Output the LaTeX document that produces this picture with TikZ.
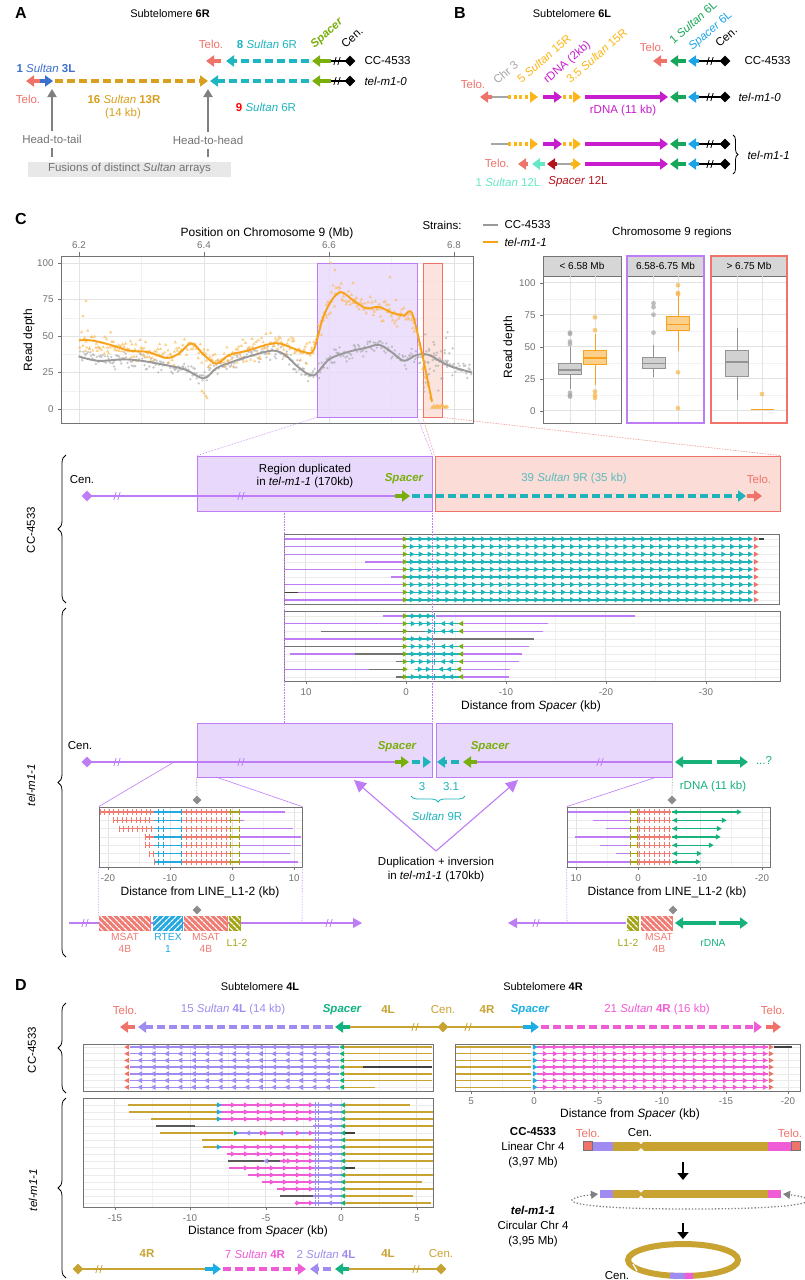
\documentclass[tikz,border=0pt]{standalone}
\usepackage{fontspec}
\setmainfont{Liberation Sans}
\usetikzlibrary{arrows.meta,shapes.geometric,patterns.meta,decorations.pathreplacing,calc}
\definecolor{telo}{HTML}{F0736A}
\definecolor{cyA}{HTML}{1EB6C1}
\definecolor{spg}{HTML}{7AAE0A}
\definecolor{blA}{HTML}{3D6FCF}
\definecolor{gdA}{HTML}{D8A01E}
\definecolor{mag}{HTML}{C71DCF}
\definecolor{yl}{HTML}{FDB616}
\definecolor{grB}{HTML}{18A65A}
\definecolor{blB}{HTML}{1DA4E6}
\definecolor{aq}{HTML}{66E8C6}
\definecolor{drd}{HTML}{B5121B}
\definecolor{pu}{HTML}{BE7DF4}
\definecolor{pufill}{HTML}{E8D9FC}
\definecolor{rdfill}{HTML}{FBDCD6}
\definecolor{org}{HTML}{F8A21C}
\definecolor{gy}{HTML}{A6A6A6}
\definecolor{tl}{HTML}{1FB4B9}
\definecolor{tlnine}{HTML}{5DBBBE}
\definecolor{rg}{HTML}{16B279}
\definecolor{lav}{HTML}{A08CF0}
\definecolor{pk}{HTML}{F05CD6}
\definecolor{cyD}{HTML}{1BAFE5}
\definecolor{gnD}{HTML}{12B283}
\definecolor{gD}{HTML}{C8A332}
\definecolor{ms}{HTML}{F07B73}
\definecolor{rt}{HTML}{24A8DF}
\definecolor{lo}{HTML}{A4A516}
\newcommand\Rtri[3]{\fill[#1] ({#2-2.2},{#3-2.7}) -- ({#2+2.7},{#3}) -- ({#2-2.2},{#3+2.7}) -- cycle;}
\newcommand\Ltri[3]{\fill[#1] ({#2+2.2},{#3-2.7}) -- ({#2-2.7},{#3}) -- ({#2+2.2},{#3+2.7}) -- cycle;}
\newcommand\Hseg[4]{\draw[#1,line width=1.4pt] ({#2},{#4}) -- ({#3},{#4});}
\newcommand\Vbar[3]{\draw[#1,line width=0.9pt] ({#2},{#3-3}) -- ({#2},{#3+3});}
\newcommand\Brk[3]{\draw[#3,line width=0.8pt] ({#1-3.2},{#2+4}) -- ({#1-0.8},{#2-4}) ({#1+0.8},{#2+4}) -- ({#1+3.2},{#2-4});}
\newcommand\Bxp[8]{%
 \draw[#7,line width=0.8pt] (#1,{410.7-1.28*#2}) -- (#1,{410.7-1.28*#3}) (#1,{410.7-1.28*#5}) -- (#1,{410.7-1.28*#6});
 \draw[#7,fill=#8,line width=0.8pt] ({#1-11.5},{410.7-1.28*#3}) rectangle ({#1+11.5},{410.7-1.28*#5});
 \draw[#7,line width=1.6pt] ({#1-11.5},{410.7-1.28*#4}) -- ({#1+11.5},{410.7-1.28*#4});}
\newcommand\Outl[3]{\foreach \v in {#3}{\fill[#2,opacity=.7] (#1,{410.7-1.28*\v}) circle[radius=2.4pt];}}
\newcommand\LiRow[3]{%
 \Hseg{ms}{#2}{154}{#1}\Hseg{rt}{154}{182}{#1}\Hseg{ms}{182}{229}{#1}\Hseg{lo}{229}{240}{#1}\Hseg{pu}{240}{#3}{#1}
 \pgfmathtruncatemacro\nt{(154-#2)/4.6}
 \foreach \i in {0,...,\nt}{\Vbar{ms}{#2+\i*4.6}{#1}}
 \foreach \xq in {158,163,181}{\Vbar{rt}{\xq}{#1}}
 \foreach \i in {0,...,8}{\Vbar{ms}{186+\i*5}{#1}}
 \Vbar{lo}{230}{#1}\Vbar{lo}{239}{#1}}
\newcommand\RiRow[3]{%
 \Hseg{pu}{#2}{630}{#1}\Hseg{lo}{630}{637}{#1}\Vbar{lo}{630}{#1}\Vbar{lo}{637}{#1}
 \Hseg{ms}{638}{671}{#1}\foreach \i in {0,...,6}{\Vbar{ms}{639+\i*5}{#1}}
 \Hseg{rg}{672}{#3}{#1}\Ltri{rg}{675}{#1}\Rtri{rg}{#3}{#1}}
\newcommand\InvC[1]{%
 \Hseg{tl}{405}{461}{#1}\Rtri{spg}{405}{#1}\Rtri{tl}{413}{#1}\Rtri{tl}{421}{#1}\Rtri{tl}{429}{#1}
 \Vbar{tl}{434}{#1}\Ltri{tl}{443}{#1}\Ltri{tl}{451}{#1}\Ltri{spg}{461}{#1}}
\newcommand\DTail[3]{%
 \Hseg{lav}{313}{341}{#1}
 \draw[lav,line width=0.9pt] (315.5,{#1-3}) -- (315.5,{#1+3}) (318.5,{#1-3}) -- (318.5,{#1+3});
 \Ltri{lav}{330}{#1}\Ltri{gnD}{343}{#1}\Hseg{#3}{345}{#2}{#1}}
\newcommand\DPk[3]{\Hseg{pk}{#2}{313}{#1}\foreach \pp in {#3}{\Rtri{pk}{\pp}{#1}}}
\begin{document}
\begin{tikzpicture}[x=1pt,y=-1pt,font=\fontsize{11.5}{13.5}\selectfont,
  ar/.style={line width=3.2pt,-{Triangle[length=8pt,width=11pt]}},
  ard/.style={ar,dash pattern=on 8pt off 4pt},
  ardt/.style={ar,dash pattern=on 3pt off 2.6pt},
  tk/.style={font=\fontsize{9.8}{10}\selectfont,text=black!55},
  titl/.style={font=\fontsize{11}{12}\selectfont},
  axt/.style={font=\fontsize{12}{13}\selectfont},
  it/.style={font=\fontsize{11.5}{13.5}\selectfont\itshape},
  bi/.style={font=\fontsize{11.5}{13.5}\selectfont\bfseries\itshape},
  bo/.style={font=\fontsize{11.5}{13.5}\selectfont\bfseries},
  dia/.style={diamond,inner sep=0,minimum size=11pt},
  gmaj/.style={black!11,line width=0.6pt},
  gmin/.style={black!5,line width=0.4pt},
  frm/.style={draw=black!55,line width=0.7pt,inner sep=0},
  rowl/.style={black!8,line width=0.5pt},
  chr/.style={line width=1.2pt},
  lnk/.style={line width=0.6pt,densely dotted},
  sml/.style={font=\fontsize{10.3}{12}\selectfont,align=center},
  brc/.style={decorate,decoration={brace,amplitude=8pt},line width=0.8pt},
  hatch/.style={draw=#1,line width=0.8pt,fill=#1,inner sep=0,minimum height=14pt},
  dupa/.style={pu,line width=1.1pt,-{Triangle[length=12pt,width=12pt]}}]
\useasboundingbox (0,0) rectangle (805,1280);
\fill[white] (0,0) rectangle (805,1280);
% ================= PANEL A =================
\node[font=\fontsize{16}{16}\bfseries\selectfont] (lA) at (21,13) {A};
\node[titl] (tA) at (170,14) {Subtelomere \textbf{6R}};
\draw[chr] (330,61) -- (350,61); \Brk{337}{61}{black}
\node[dia,fill=black] (cA1) at (350,61) {};
\draw[ar,spg] (331,61) -- (312,61);
\draw[ard,cyA] (309,61) -- (226,61);
\draw[ar,telo] (221,61) -- (206,61);
\node[anchor=west] (sA1) at (361,61) {CC-4533};
\draw[chr] (330,81) -- (350,81); \Brk{337}{81}{black}
\node[dia,fill=black] (cA2) at (350,81) {};
\draw[ar,spg] (331,81) -- (312,81);
\draw[ard,cyA] (309,81) -- (210,81);
\draw[ard,gdA] (55,81) -- (208,81);
\draw[ar,blA] (39,81) -- (53,81);
\draw[ar,telo] (40,81) -- (26,81);
\node[anchor=west,it] (sA2) at (361,81) {tel-m1-0};
\node[telo] (tA1) at (211,44) {Telo.};
\node[cyA] (tA2) at (267,44) {\textbf{8} \textit{Sultan} 6R};
\node[spg,bi,rotate=42,anchor=base west] (tA3) at (312,51) {Spacer};
\node[rotate=42,anchor=base west] (tA4) at (343,51) {Cen.};
\node[blA] (tA5) at (46,68) {\textbf{1} \textit{Sultan} \textbf{3L}};
\node[telo] (tA6) at (28,99) {Telo.};
\node[gdA] (tA7) at (124,99) {\textbf{16} \textit{Sultan} \textbf{13R}};
\node[gdA] (tA8) at (123,114) {(14 kb)};
\node[cyA] (tA9) at (266,107) {\textcolor{red}{\textbf{9}} \textit{Sultan} 6R};
\node[text=black!55] (hA1) at (52,139) {Head-to-tail};
\node[text=black!55] (hA2) at (208,140) {Head-to-head};
\coordinate (jA1) at (52,89); \coordinate (jA2) at (208,89);
\draw[black!50,line width=2pt,-{Triangle[length=8pt,width=9pt]}] (hA1.north) -- (jA1);
\draw[black!50,line width=2pt,-{Triangle[length=8pt,width=9pt]}] (hA2.north) -- (jA2);
\node[fill=black!9,minimum width=203pt,minimum height=15pt,inner sep=0,text=black!55] (fA) at (129.5,169) {Fusions of distinct \textit{Sultan} arrays};
\draw[black!50,line width=2pt] (52,148) -- (52,157);
\draw[black!50,line width=2pt] (208,149) -- (208,157);
% ================= PANEL B =================
\node[font=\fontsize{16}{16}\bfseries\selectfont] (lB) at (460,13) {B};
\node[titl] (tB) at (572,14) {Subtelomere \textbf{6L}};
\foreach \yy/\nm in {61/b1,97/b2,144/b3,164/b4}{
  \draw[chr] (695,\yy) -- (725,\yy); \Brk{710}{\yy}{black}
  \node[dia,fill=black] (c\nm) at (725,\yy) {};
  \draw[ar,blB] (699,\yy) -- (688,\yy);
  \draw[ar,grB] (686,\yy) -- (670,\yy);}
\draw[ar,telo] (667,61) -- (653,61);
\node[anchor=west] (sB1) at (741,61) {CC-4533};
\node[telo] (tB1) at (652,47) {Telo.};
\node[grB,rotate=41,anchor=base west] (tB2) at (671,47) {1 \textit{Sultan} 6L};
\node[blB,rotate=41,anchor=base west] (tB2b) at (690,53) {\textit{Spacer} 6L};
\node[rotate=41,anchor=base west] (tB2c) at (717,50) {Cen.};
\foreach \yy in {97,144}{
  \draw[ar,mag] (585,\yy) -- (668,\yy);
  \draw[ardt,yl] (563,\yy) -- (581,\yy);
  \draw[ar,mag] (543,\yy) -- (562,\yy);
  \draw[ardt,yl] (508,\yy) -- (538,\yy);
  \draw[gy,chr] (491,\yy) -- (508,\yy);}
\draw[ar,telo] (492,97) -- (480,97);
\node[anchor=west,it] (sB2) at (735,97) {tel-m1-0};
\node[telo] (tB3) at (473,84) {Telo.};
\node[gy,rotate=41,anchor=base west] (tB4) at (495,87) {Chr 3};
\node[yl,rotate=41,anchor=base west] (tB5) at (519,86) {5 \textit{Sultan} 15R};
\node[mag,rotate=41,anchor=base west] (tB6) at (545,86) {rDNA (2kb)};
\node[yl,rotate=41,anchor=base west] (tB7) at (568,86) {3.5 \textit{Sultan} 15R};
\node[mag] (tB8) at (623,111) {rDNA (11 kb)};
\draw[ar,mag] (585,164) -- (668,164);
\draw[gy,chr] (557,164) -- (571,164);
\draw[ardt,yl] (571,164) -- (581,164);
\draw[ar,drd] (557,164) -- (547,164);
\draw[ar,aq] (545,164) -- (532,164);
\draw[ar,telo] (528,164) -- (518,164);
\node[telo] (tB9) at (497,163) {Telo.};
\node[aq] (tB10) at (508,182) {1 \textit{Sultan} 12L};
\node[drd] (tB11) at (578,182) {\textit{Spacer} 12L};
\draw[decorate,decoration={brace,amplitude=5pt},line width=0.8pt] (733,135) -- (733,174);
\node[anchor=west,it] (sB3) at (744,155) {tel-m1-1};
% ================= PANEL C: depth plot =================
\node[font=\fontsize{16}{16}\bfseries\selectfont] (lC) at (21,219) {C};
\node[axt] (axT) at (267,233) {Position on Chromosome 9 (Mb)};
\node[axt,rotate=90] (axY) at (29,340) {Read depth};
\foreach \X in {141.5,266.5,391.5}{\draw[gmin] (\X,256) -- (\X,423);}
\foreach \Y in {390.75,354.25,317.75,281.25}{\draw[gmin] (61,\Y) -- (473,\Y);}
\foreach \X/\L [count=\c] in {79/6.2,204/6.4,329/6.6,454/6.8}{\draw[gmaj] (\X,256) -- (\X,423); \draw[black!55] (\X,256) -- (\X,252); \node[tk] (xt\c) at (\X,245) {\L};}
\foreach \Y/\L [count=\c] in {409/0,372.5/25,336/50,299.5/75,263/100}{\draw[gmaj] (61,\Y) -- (473,\Y); \draw[black!55] (61,\Y) -- (58,\Y); \node[tk,anchor=east] (yt\c) at (57,\Y) {\L};}
\node[draw=pu,fill=pufill,fill opacity=.8,line width=0.8pt,minimum width=100pt,minimum height=154pt,inner sep=0] (pbox) at (367,340) {};
\node[draw=telo,fill=rdfill,fill opacity=.8,line width=0.8pt,minimum width=19pt,minimum height=154pt,inner sep=0] (rbox) at (432.5,340) {};
\pgfmathsetseed{4}
\foreach \xa/\ya/\xb/\yb in {79/356.4/97.8/360.8,97.8/360.8/122.8/359.4,122.8/359.4/141.5/360.8,141.5/360.8/166.5/365.2,166.5/365.2/185.3/369.6,185.3/369.6/204/378.3,204/378.3/216.5/368.1,216.5/368.1/235.3/360.8,235.3/360.8/254/355,254/355/272.8/350.6,272.8/350.6/285.3/355,285.3/355/297.8/366.7,297.8/366.7/313.4/375.4,313.4/375.4/329/359.4,329/359.4/347.8/352,347.8/352/366.5/347.7,366.5/347.7/379/344.8,379/344.8/391.5/352,391.5/352/404/360.8,404/360.8/416.5/355,416.5/355/429/355,429/355/447.8/365.2,447.8/365.2/472/372.5}{
 \pgfmathtruncatemacro\nn{max(2,(\xb-\xa)/1.0)}
 \foreach \k in {1,...,\nn}{
  \pgfmathsetmacro\px{\xa+(\k-rnd)*(\xb-\xa)/\nn}
  \pgfmathsetmacro\py{\ya+(\yb-\ya)*(\px-\xa)/(\xb-\xa)+5*(rand+rand)}
  \fill[black!35,opacity=.6] (\px,\py) circle[radius=1.3pt];}}
\foreach \k in {1,...,30}{\pgfmathsetmacro\px{423+rnd*30}\pgfmathsetmacro\py{362+30*rand}\fill[black!35,opacity=.6] (\px,\py) circle[radius=1.3pt];}
\foreach \xa/\ya/\xb/\yb in {79/340.4/91.5/340.4,91.5/340.4/110.3/344.8,110.3/344.8/129/350.6,129/350.6/147.8/352,147.8/352/166.5/357.9,166.5/357.9/179/353.5,179/353.5/191.5/343.3,191.5/343.3/204/355,204/355/216.5/363.7,216.5/363.7/229/355,229/355/247.8/350.6,247.8/350.6/266.5/344.8,266.5/344.8/279/343.3,279/343.3/291.5/347.7,291.5/347.7/304/352,304/352/313.4/350.6,313.4/350.6/322.8/318.5,322.8/318.5/332.1/299.5,332.1/299.5/341.5/292.2,341.5/292.2/354/301,354/301/366.5/308.3,366.5/308.3/379/306.8,379/306.8/391.5/312.6,391.5/312.6/404/315.6,404/315.6/413.4/317,413.4/317/432/401.7}{
 \pgfmathtruncatemacro\nn{max(2,(\xb-\xa)/0.9)}
 \foreach \k in {1,...,\nn}{
  \pgfmathsetmacro\px{\xa+(\k-rnd)*(\xb-\xa)/\nn}
  \pgfmathsetmacro\py{\ya+(\yb-\ya)*(\px-\xa)/(\xb-\xa)+7*(rand+rand)}
  \fill[org!75,opacity=.65] (\px,{\py-1.8}) -- ++(1.7,2.9) -- ++(-3.4,0) -- cycle;}}
\foreach \px/\py in {86/301,83/316,204/393,206/396,202/391,207/398,331/263,335/270,353/283,396/300,390/277}{\fill[org!75,opacity=.65] (\px,{\py-1.8}) -- ++(1.7,2.9) -- ++(-3.4,0) -- cycle;}
\foreach \k in {1,...,22}{\pgfmathsetmacro\px{431+\k*0.75}\pgfmathsetmacro\py{406.5+1.5*rand}\fill[org!75,opacity=.7] (\px,{\py-1.8}) -- ++(1.7,2.9) -- ++(-3.4,0) -- cycle;}
\draw[black!40,line width=1.9pt] plot[smooth,tension=0.55] coordinates {(79,356.4) (97.8,360.8) (122.8,359.4) (141.5,360.8) (166.5,365.2) (185.3,369.6) (204,378.3) (216.5,368.1) (235.3,360.8) (254,355) (272.8,350.6) (285.3,355) (297.8,366.7) (313.4,375.4) (329,359.4) (347.8,352) (366.5,347.7) (379,344.8) (391.5,352) (404,360.8) (416.5,355) (429,355) (447.8,365.2) (472,372.5)};
\draw[org,line width=1.9pt] plot[smooth,tension=0.55] coordinates {(79,340.4) (91.5,340.4) (110.3,344.8) (129,350.6) (147.8,352) (166.5,357.9) (179,353.5) (191.5,343.3) (204,355) (216.5,363.7) (229,355) (247.8,350.6) (266.5,344.8) (279,343.3) (291.5,347.7) (304,352) (313.4,350.6) (322.8,318.5) (332.1,299.5) (341.5,292.2) (354,301) (366.5,308.3) (379,306.8) (391.5,312.6) (404,315.6) (413.4,317) (432,401.7)};
\node[frm,minimum width=412pt,minimum height=167pt] (fC) at (267,339.5) {};
% legend
\node (lgS) at (442,225) {Strains:};
\draw[black!40,line width=2.2pt] (483,225) -- (498,225);
\node[anchor=west] (lg1) at (501,225) {CC-4533};
\draw[org,line width=2.2pt] (483,242) -- (498,242);
\node[anchor=west,it] (lg2) at (501,242) {tel-m1-1};
% boxplots
\node (bpT) at (672,233) {Chromosome 9 regions};
\node[axt,rotate=90] (bpY) at (509,347) {Read depth};
\foreach \a/\b in {543/621,627/704,711/787}{
  \foreach \Y in {394.7,362.7,330.7,298.7}{\draw[gmin] (\a,\Y) -- (\b,\Y);}
  \foreach \Y in {410.7,378.7,346.7,314.7,282.7}{\draw[gmaj] (\a,\Y) -- (\b,\Y);}
  \draw[black!55,fill=black!16,line width=0.7pt] (\a,256) rectangle (\b,276);
  \draw[black!55,line width=0.7pt] (\a,276) rectangle (\b,423);}
\foreach \X in {570,595,653.5,678,737,762}{\draw[gmaj] (\X,276) -- (\X,423);}
\foreach \Y/\L [count=\c] in {410.7/0,378.7/25,346.7/50,314.7/75,282.7/100}{\draw[black!55] (540,\Y) -- (543,\Y); \node[tk,anchor=east] (by\c) at (539,\Y) {\L};}
\node[font=\fontsize{10}{10}\selectfont] (fh1) at (582,266) {< 6.58 Mb};
\node[font=\fontsize{10}{10}\selectfont] (fh2) at (665.5,266) {6.58-6.75 Mb};
\node[font=\fontsize{10}{10}\selectfont] (fh3) at (749,266) {> 6.75 Mb};
\Bxp{570}{17}{28}{32}{37}{50}{black!42}{black!18}
\Outl{570}{black!35}{60,61,54,52,14,12,11}
\Bxp{595}{20}{36}{41}{47}{60}{org}{org!50}
\Outl{595}{org!80}{73,63,15,12,10}
\Bxp{653.5}{26}{33}{37}{42}{51}{black!42}{black!18}
\Outl{653.5}{black!35}{61,75,81,84}
\Bxp{678}{47}{63}{67.5}{74}{90}{org}{org!50}
\Outl{678}{org!80}{92,91,98,30,2}
\Bxp{737}{8}{27}{38}{47}{65}{black!42}{black!18}
\draw[org,line width=1.8pt] (751,409.4) -- (774,409.4);
\Outl{762}{org!80}{13}
\draw[pu,line width=1.6pt] (627,256) rectangle (704,423);
\draw[telo,line width=1.6pt] (711,256) rectangle (787,423);
% ================= PANEL C: CC-4533 structure =================
\node[draw=pu,fill=pufill,line width=0.8pt,minimum width=235pt,minimum height=55pt,inner sep=0] (cbp) at (314.5,483.5) {};
\node[draw=telo,fill=rdfill,line width=0.8pt,minimum width=345pt,minimum height=55pt,inner sep=0] (cbr) at (607.5,483.5) {};
\draw[pu,lnk] (pbox.south west) -- (cbp.north west);
\draw[pu,lnk] (pbox.south east) -- (cbp.north east);
\draw[telo,lnk] (rbox.south west) -- (cbr.north west);
\draw[telo,lnk] (rbox.south east) -- (cbr.north east);
\draw[pu,chr] (87,496) -- (395,496); \Brk{117}{496}{pu} \Brk{241}{496}{pu}
\node[dia,fill=pu] (cenC1) at (87,496) {};
\draw[ar,spg] (395,496) -- (410,496);
\draw[ard,tl] (412,496) -- (746,496);
\draw[ar,telo] (747,496) -- (762,496);
\node (tC1) at (82,480) {Cen.};
\node[align=center,font=\fontsize{11.5}{13.5}\selectfont] (tC2) at (305,476) {Region duplicated\\in \textit{tel-m1-1} (170kb)};
\node[spg,bi] (tC3) at (404,479) {Spacer};
\node[tlnine] (tC4) at (574,479) {39 \textit{Sultan} 9R (35 kb)};
\node[telo] (tC5) at (759,479) {Telo.};
\draw[brc] (66,603) -- (66,455);
\node[rotate=90] (bC1) at (31,530) {CC-4533};
% read plots C
\foreach \X in {355,455,555,655,755}{\draw[gmin] (\X,534) -- (\X,604); \draw[gmin] (\X,611) -- (\X,681);}
\foreach \X in {305,405,505,605,705}{\draw[gmaj] (\X,534) -- (\X,604); \draw[gmaj] (\X,611) -- (\X,681);}
\foreach \k in {0,...,8}{\draw[rowl] (284,{539+7.6*\k}) -- (779,{539+7.6*\k}); \draw[rowl] (284,{616+7.6*\k}) -- (780,{616+7.6*\k});}
\foreach \k/\s in {0/284,1/284,2/284,3/365,4/284,5/391,6/284,7/298,8/284}{
  \pgfmathsetmacro\yy{539+7.6*\k}
  \Hseg{pu}{\s}{403}{\yy}
  \Hseg{tl}{405}{752}{\yy}
  \Rtri{spg}{405}{\yy}
  \foreach \i in {0,...,38}{\Rtri{tl}{412+\i*8.9}{\yy}}
  \Rtri{telo}{756}{\yy}}
\Hseg{black!75}{284}{298}{592.2}
\Hseg{black!75}{759}{764}{539}
% tel-m1-1 reads
\Hseg{pu}{383}{403}{616}\Hseg{tl}{405}{435}{616}\Rtri{spg}{405}{616}\Rtri{tl}{413}{616}\Rtri{tl}{421}{616}\Rtri{tl}{429}{616}\Vbar{tl}{434}{616}\Hseg{pu}{436}{635}{616}
\Hseg{pu}{284}{403}{623.6}\InvC{623.6}\Hseg{pu}{463}{548}{623.6}
\Hseg{black!55}{321}{425}{631.2}\Rtri{spg}{405}{631.2}\Hseg{tl}{425}{461}{631.2}\Rtri{tl}{430}{631.2}\Vbar{tl}{434}{631.2}\Ltri{tl}{443}{631.2}\Ltri{tl}{451}{631.2}\Ltri{spg}{461}{631.2}\Hseg{pu}{463}{543}{631.2}
\Hseg{pu}{284}{403}{638.8}\Hseg{tl}{405}{432}{638.8}\Rtri{spg}{405}{638.8}\Rtri{tl}{413}{638.8}\Rtri{tl}{421}{638.8}\Rtri{tl}{429}{638.8}\Vbar{tl}{432}{638.8}\Hseg{black!55}{433}{534}{638.8}
\Hseg{black!55}{284}{403}{646.4}\InvC{646.4}\Hseg{pu}{463}{529}{646.4}
\Hseg{pu}{290}{355}{654}\Hseg{black!55}{355}{403}{654}\InvC{654}\Hseg{pu}{463}{522}{654}
\Hseg{black!55}{396}{403}{661.6}\InvC{661.6}\Hseg{pu}{463}{519}{661.6}
\Hseg{pu}{284}{369}{669.2}\Hseg{black!55}{369}{403}{669.2}\Rtri{spg}{405}{669.2}\Hseg{tl}{415}{459}{669.2}\Rtri{tl}{420}{669.2}\Rtri{tl}{428}{669.2}\Vbar{tl}{432}{669.2}\Ltri{tl}{441}{669.2}\Ltri{tl}{449}{669.2}\Ltri{spg}{459}{669.2}\Hseg{pu}{461}{510}{669.2}
\Hseg{black!55}{396}{403}{676.8}\InvC{676.8}\Hseg{pu}{463}{509}{676.8}
\node[frm,minimum width=495pt,minimum height=70pt] (fcc) at (531.5,569) {};
\node[frm,minimum width=496pt,minimum height=70pt] (ftm) at (532,646) {};
\foreach \X/\L [count=\c] in {306/10,406/0,506/-10,606/-20,706/-30}{\draw[black!55] (\X,681) -- (\X,684); \node[tk] (tm\c) at (\X,692) {\L};}
\node[axt] (tmT) at (531,706) {Distance from \textit{Spacer} (kb)};
% ================= PANEL C: tel-m1-1 structure =================
\node[draw=pu,fill=pufill,line width=0.8pt,minimum width=235pt,minimum height=54pt,inner sep=0] (tbp1) at (314.5,750) {};
\node[draw=pu,fill=pufill,line width=0.8pt,minimum width=236pt,minimum height=54pt,inner sep=0] (tbp2) at (554,750) {};
\coordinate (d1) at (284,511);
\draw[pu,lnk] (d1) -- (d1 |- tbp1.north);
\draw[pu,lnk] (cbp.south east) -- (tbp1.north east);
\draw[pu,chr] (87,762) -- (395,762); \Brk{117}{762}{pu} \Brk{241}{762}{pu}
\node[dia,fill=pu] (cenC2) at (87,762) {};
\draw[ar,spg] (395,762) -- (409,762);
\draw[ard,tl] (412,762) -- (431,762);
\draw[ard,tl] (459,762) -- (437,762);
\draw[ar,spg] (477,762) -- (463,762);
\draw[pu,chr] (477,762) -- (672,762); \Brk{600}{762}{pu}
\draw[ar,rg] (712,762) -- (675,762);
\draw[ar,rg] (717,762) -- (748,762);
\node[rg] (tD0) at (764,760) {...?};
\node (tD1) at (80,746) {Cen.};
\node[spg,bi] (tD2) at (397,747) {Spacer};
\node[spg,bi] (tD3) at (490,747) {Spacer};
\node[rg] (tD4) at (713,787) {rDNA (11 kb)};
\node[tl] (tD5) at (422,787) {3};
\node[tl] (tD6) at (451,787) {3.1};
\draw[tl,decorate,decoration={brace,amplitude=6pt},line width=0.8pt] (465,796) -- (411,796);
\node[tl] (tD7) at (437,816) {\textit{Sultan} 9R};
\node[align=center,font=\fontsize{11.5}{14}\selectfont] (dup) at (436,870) {Duplication + inversion\\in \textit{tel-m1-1} (170kb)};
\coordinate (vx) at (436,851); \coordinate (ta1) at (354,780); \coordinate (ta2) at (518,780);
\draw[dupa] (vx) -- (ta1);
\draw[dupa] (vx) -- (ta2);
\node[dia,fill=black!45,minimum size=9pt] (dmL) at (197,800) {};
\node[dia,fill=black!45,minimum size=9pt] (dmR) at (672,800) {};
\draw[black!45,lnk] (tbp1.south west) -- (dmL.north);
\draw[black!45,lnk] (tbp2.south east) -- (dmR.north);
\draw[brc] (66,957) -- (66,608);
\node[rotate=90,it] (bC2) at (31,785) {tel-m1-1};
% insets
\foreach \X in {139,201,263}{\draw[gmin] (\X,807) -- (\X,867);}
\foreach \X in {108,170,232,294}{\draw[gmaj] (\X,807) -- (\X,867);}
\foreach \X in {607,669,731}{\draw[gmin] (\X,807) -- (\X,867);}
\foreach \X in {576,638,700,762}{\draw[gmaj] (\X,807) -- (\X,867);}
\foreach \k in {0,...,6}{\draw[rowl] (99,{812+8.3*\k}) -- (302,{812+8.3*\k}); \draw[rowl] (567,{812+8.3*\k}) -- (770,{812+8.3*\k});}
\foreach \k/\s/\e in {0/100/285,1/113/244,2/119/293,3/145/301,4/145/301,5/149/290,6/154/298}{\pgfmathsetmacro\yy{812+8.3*\k}\LiRow{\yy}{\s}{\e}}
\foreach \k/\s/\e in {0/567/739,1/593/724,2/606/719,3/575/718,4/600/711,5/616/699,6/568/698}{\pgfmathsetmacro\yy{812+8.3*\k}\RiRow{\yy}{\s}{\e}}
\node[frm,minimum width=203pt,minimum height=60pt] (fL) at (200.5,837) {};
\node[frm,minimum width=203pt,minimum height=60pt] (fR) at (668.5,837) {};
\foreach \X/\L [count=\c] in {108/-20,170/-10,232/0,294/10}{\draw[black!55] (\X,867) -- (\X,870); \node[tk] (il\c) at (\X,878) {\L};}
\foreach \X/\L [count=\c] in {576/10,638/0,700/-10,762/-20}{\draw[black!55] (\X,867) -- (\X,870); \node[tk] (ir\c) at (\X,878) {\L};}
\node[axt] (ilT) at (200,892) {Distance from LINE\_L1-2 (kb)};
\node[axt] (irT) at (667,892) {Distance from LINE\_L1-2 (kb)};
\coordinate (cL1) at (174,762); \coordinate (cL2) at (216,777); \coordinate (cR1) at (657,777);
\draw[pu,line width=0.6pt] (cL1) -- (fL.north west);
\draw[pu,line width=0.6pt] (cL2) -- (fL.north east);
\draw[pu,line width=0.6pt] (cR1) -- (fR.north west);
% bottom constructs C
\draw[pu,chr,-{Triangle[length=9pt,width=10pt]}] (69,923) -- (362,923); \Brk{85}{923}{pu} \Brk{329}{923}{pu}
\node[hatch=ms,minimum width=51pt,postaction={pattern={Lines[angle=-45,distance=4pt,line width=1.3pt]},pattern color=white}] (ms1) at (124.5,923) {};
\node[hatch=rt,minimum width=29pt,postaction={pattern={Lines[angle=45,distance=4pt,line width=1.3pt]},pattern color=white}] (rt1) at (167.5,923) {};
\node[hatch=ms,minimum width=43pt,postaction={pattern={Lines[angle=-45,distance=4pt,line width=1.3pt]},pattern color=white}] (ms2) at (205.5,923) {};
\node[hatch=lo,minimum width=11pt,postaction={pattern={Lines[angle=-45,distance=4pt,line width=1.3pt]},pattern color=white}] (l1) at (234.5,923) {};
\node[dia,fill=black!45,minimum size=9pt] (dmL2) at (197,910) {};
\node[ms,sml] (bl1) at (125,943) {MSAT\\4B};
\node[rt,sml] (bl2) at (168,943) {RTEX\\1};
\node[ms,sml] (bl3) at (206,943) {MSAT\\4B};
\node[lo,sml] (bl4) at (237,943) {L1-2};
\draw[pu,lnk] (fL.south west) -- (ms1.north west);
\draw[pu,lnk] (fL.south east) -- (302,923);
\draw[pu,chr,-{Triangle[length=9pt,width=10pt]}] (626,923) -- (508,923); \Brk{536}{923}{pu}
\node[hatch=lo,minimum width=11pt,postaction={pattern={Lines[angle=-45,distance=4pt,line width=1.3pt]},pattern color=white}] (l2) at (632.5,923) {};
\node[hatch=ms,minimum width=31pt,postaction={pattern={Lines[angle=-45,distance=4pt,line width=1.3pt]},pattern color=white}] (ms3) at (656.5,923) {};
\draw[ar,rg] (716,923) -- (675,923);
\draw[ar,rg] (719,923) -- (748,923);
\node[dia,fill=black!45,minimum size=9pt] (dmR2) at (673,910) {};
\node[lo,sml] (br1) at (628,943) {L1-2};
\node[ms,sml] (br2) at (659,943) {MSAT\\4B};
\node[rg,sml] (br3) at (713,943) {rDNA};
\draw[pu,lnk] (fR.south west) -- (567,923);
% ================= PANEL D =================
\node[font=\fontsize{16}{16}\bfseries\selectfont] (lD) at (21,985) {D};
\node[titl] (tDa) at (260,987) {Subtelomere \textbf{4L}};
\node[titl] (tDb) at (543,987) {Subtelomere \textbf{4R}};
\draw[ar,telo] (135,1027) -- (120,1027);
\draw[ard,lav] (333,1027) -- (138,1027);
\draw[ar,gnD] (350,1027) -- (335,1027);
\draw[gD,chr] (350,1027) -- (523,1027); \Brk{415}{1027}{gD} \Brk{468}{1027}{gD}
\node[dia,fill=gD] (cenD1) at (443,1027) {};
\draw[ar,cyD] (523,1027) -- (539,1027);
\draw[ard,pk] (541,1027) -- (762,1027);
\draw[ar,telo] (766,1027) -- (781,1027);
\node[telo] (dl1) at (125,1010) {Telo.};
\node[lav] (dl2) at (233,1010) {15 \textit{Sultan} \textbf{4L} (14 kb)};
\node[gnD,bi] (dl3) at (342,1010) {Spacer};
\node[gD,bo] (dl4) at (388,1010) {4L};
\node[gD] (dl5) at (443,1010) {Cen.};
\node[gD,bo] (dl6) at (487,1010) {4R};
\node[cyD,bi] (dl7) at (530,1010) {Spacer};
\node[pk] (dl8) at (657,1010) {21 \textit{Sultan} \textbf{4R} (16 kb)};
\node[telo] (dl9) at (773,1010) {Telo.};
% grids D
\foreach \X in {152,228,303,379}{\draw[gmin] (\X,1044) -- (\X,1091); \draw[gmin] (\X,1098) -- (\X,1207);}
\foreach \X in {114.5,190,265.5,341,416.5}{\draw[gmaj] (\X,1044) -- (\X,1091); \draw[gmaj] (\X,1098) -- (\X,1207);}
\foreach \X in {502,566,629,693,756}{\draw[gmin] (\X,1044) -- (\X,1091);}
\foreach \X in {470.5,534,597.5,661,724.5,788}{\draw[gmaj] (\X,1044) -- (\X,1091);}
\foreach \k in {0,...,6}{\draw[rowl] (83,{1047+6.7*\k}) -- (433,{1047+6.7*\k}); \draw[rowl] (455,{1047+6.7*\k}) -- (800,{1047+6.7*\k});}
\foreach \k in {0,...,14}{\draw[rowl] (83,{1105+7*\k}) -- (433,{1105+7*\k});}
% CC 4L reads
\foreach \k/\e in {0/432,1/432,2/432,3/363,4/432,5/432,6/375}{\pgfmathsetmacro\yy{1047+6.7*\k}
 \Hseg{lav}{130}{339}{\yy}\Ltri{telo}{127}{\yy}
 \foreach \i in {0,...,14}{\Ltri{lav}{140+\i*13.4}{\yy}}
 \Ltri{gnD}{342}{\yy}\Hseg{gD}{344}{\e}{\yy}}
\Hseg{black!75}{363}{432}{1067.1}
% CC 4R reads
\foreach \k in {0,...,6}{\pgfmathsetmacro\yy{1047+6.7*\k}
 \Hseg{gD}{455}{531}{\yy}\Hseg{pk}{537}{768}{\yy}\Rtri{cyD}{535}{\yy}
 \foreach \i in {0,...,22}{\Rtri{pk}{545+\i*10}{\yy}}\Rtri{telo}{771}{\yy}}
\Hseg{black!75}{774}{792}{1047}
% tel-m1-1 4L reads
\Hseg{gD}{128}{217}{1105}\DPk{1105}{218}{233,246,259,272,285,298,311}\Rtri{cyD}{219}{1105}\DTail{1105}{410}{gD}
\Hseg{gD}{129}{217}{1112}\DPk{1112}{218}{233,246,259,272,285,298,311}\Rtri{cyD}{219}{1112}\DTail{1112}{433}{gD}
\Hseg{gD}{151}{217}{1119}\DPk{1119}{218}{233,246,259,272,285,298,311}\Rtri{cyD}{219}{1119}\DTail{1119}{433}{gD}
\Hseg{black!65}{156}{195}{1126}\draw[black!35,line width=0.8pt] (195,1126) -- (313,1126);\DTail{1126}{433}{gD}
\Hseg{gD}{160}{233}{1133}\Hseg{lav}{238}{313}{1133}\Rtri{gnD}{236}{1133}\Ltri{lav}{248}{1133}\Rtri{pk}{262}{1133}\Rtri{pk}{266}{1133}\Ltri{pk}{281}{1133}\Rtri{pk}{298}{1133}\Rtri{pk}{311}{1133}\DTail{1133}{355}{black!75}
\Hseg{gD}{202}{313}{1140}\DTail{1140}{433}{gD}
\Hseg{gD}{203}{217}{1147}\DPk{1147}{218}{233,246,259,272,285,298,311}\Rtri{cyD}{219}{1147}\DTail{1147}{433}{gD}
\DPk{1154}{227}{233,246,259,272,285,298,311}\DTail{1154}{433}{gD}
\Hseg{black!65}{228}{264}{1161}\Ltri{lav}{266}{1161}\Hseg{black!65}{268}{280}{1161}\DPk{1161}{280}{285,289,298,311}\DTail{1161}{433}{gD}
\DPk{1168}{229}{246,259,272,285,298,311}\DTail{1168}{355}{black!75}
\DPk{1175}{248}{259,272,285,298,311}\DTail{1175}{433}{gD}
\DPk{1182}{262}{272,285,298,311}\DTail{1182}{422}{gD}
\DPk{1189}{277}{285,298,311}\DTail{1189}{433}{gD}
\Hseg{black!65}{280}{313}{1196}\DTail{1196}{413}{gD}
\DPk{1203}{295}{298,311}\DTail{1203}{431}{gD}
\node[frm,minimum width=350pt,minimum height=47pt] (fD1) at (258,1067.5) {};
\node[frm,minimum width=350pt,minimum height=109pt] (fD2) at (258,1152.5) {};
\node[frm,minimum width=345pt,minimum height=47pt] (fD3) at (627.5,1067.5) {};
\foreach \X/\L [count=\c] in {115/-15,190/-10,266/-5,341/0,417/5}{\draw[black!55] (\X,1207) -- (\X,1210); \node[tk] (dx\c) at (\X,1218) {\L};}
\foreach \X/\L [count=\c] in {471/5,534/0,598/-5,662/-10,726/-15,788/-20}{\draw[black!55] (\X,1091) -- (\X,1094); \node[tk] (ex\c) at (\X,1101) {\L};}
\node[axt] (dxT) at (258,1231) {Distance from \textit{Spacer} (kb)};
\node[axt] (exT) at (630,1114) {Distance from \textit{Spacer} (kb)};
\draw[brc] (66,1093) -- (66,1003);
\node[rotate=90] (bD1) at (32,1050) {CC-4533};
\draw[brc] (66,1278) -- (66,1098);
\node[rotate=90,it] (bD2) at (33,1190) {tel-m1-1};
% bottom construct D
\draw[gD,chr] (78,1269) -- (205,1269); \Brk{99}{1269}{gD}
\node[dia,fill=gD] (cenD2) at (78,1269) {};
\draw[ar,cyD] (205,1269) -- (221,1269);
\draw[ard,pk] (223,1269) -- (306,1269);
\draw[ard,lav] (331,1269) -- (310,1269);
\draw[ar,gnD] (349,1269) -- (335,1269);
\draw[gD,chr] (349,1269) -- (441,1269); \Brk{416}{1269}{gD}
\node[dia,fill=gD] (cenD3) at (441,1269) {};
\node[gD,bo] (dm1) at (147,1254) {4R};
\node[pk] (dm2) at (255,1254) {7 \textit{Sultan} \textbf{4R}};
\node[lav] (dm3) at (326,1254) {2 \textit{Sultan} \textbf{4L}};
\node[gD,bo] (dm4) at (388,1254) {4L};
\node[gD] (dm5) at (441,1254) {Cen.};
% chromosome 4 schematics
\node[align=center,font=\fontsize{11.5}{15}\selectfont] (cL1t) at (533,1148) {\textbf{CC-4533}\\Linear Chr 4\\(3,97 Mb)};
\fill[lav] (592,1141.5) rectangle (613,1150.5);
\fill[gD] (613,1141.5) rectangle (768,1150.5);
\fill[pk] (768,1141.5) rectangle (791,1150.5);
\draw[black!55,fill=telo,line width=1pt] (583,1141.5) rectangle (592,1150.5);
\draw[black!55,fill=telo,line width=1pt] (791,1141.5) rectangle (800,1150.5);
\fill[white] (638,1141) -- (644,1141) -- (641,1144) -- cycle;
\fill[white] (638,1151) -- (644,1151) -- (641,1148) -- cycle;
\node[telo] (cT1) at (588,1133) {Telo.};
\node (cT2) at (640,1133) {Cen.};
\node[telo] (cT3) at (790,1133) {Telo.};
\coordinate (ba1) at (683,1162); \coordinate (ba2) at (683,1180);
\draw[line width=2.8pt,-{Triangle[length=7pt,width=11pt]}] (ba1) -- (ba2);
\fill[lav] (600,1190) rectangle (613,1198);
\fill[gD] (613,1190) rectangle (768,1198);
\fill[pk] (768,1190) rectangle (781,1198);
\fill[white] (638,1189.5) -- (644,1189.5) -- (641,1192.5) -- cycle;
\fill[white] (638,1198.5) -- (644,1198.5) -- (641,1195.5) -- cycle;
\coordinate (el1) at (598,1194); \coordinate (el2) at (783,1194);
\draw[black!50,line width=1.3pt,dash pattern=on 1.3pt off 2pt,{Triangle[length=7pt,width=8pt]}-{Triangle[length=7pt,width=8pt]}] (el1) .. controls (555,1199) and (560,1209) .. (690,1209) .. controls (820,1209) and (825,1199) .. (el2);
\node[align=center,font=\fontsize{11.5}{15}\selectfont] (cL2t) at (533,1227) {\textbf{\textit{tel-m1-1}}\\Circular Chr 4\\(3,95 Mb)};
\coordinate (bb1) at (683,1223); \coordinate (bb2) at (683,1239);
\draw[line width=2.8pt,-{Triangle[length=7pt,width=11pt]}] (bb1) -- (bb2);
\draw[gD,line width=6pt] (683,1260) ellipse[x radius=55,y radius=16];
\draw[lav,line width=6pt] (670,1275.5) arc[start angle=103.7,end angle=88,x radius=55,y radius=16];
\draw[pk,line width=6pt] (684.9,1276) arc[start angle=88,end angle=79.5,x radius=55,y radius=16];
\draw[white,line width=1.2pt] (633,1264) -- (637,1271);
\node (cT4) at (617,1276) {Cen.};
\end{tikzpicture}
\end{document}
